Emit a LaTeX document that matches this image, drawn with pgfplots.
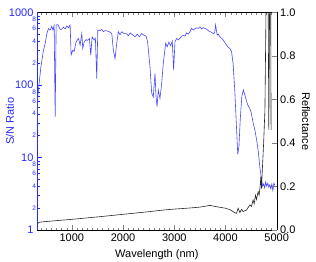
\documentclass[border=0pt]{standalone}
\usepackage{pgfplots}
\pgfplotsset{compat=1.18}
\usepackage{fontspec}
\setmainfont{Liberation Sans}
\definecolor{snline}{RGB}{70,70,255}
\definecolor{snaxis}{RGB}{40,40,255}
\newcommand{\tickfont}{\fontsize{11}{13}\selectfont}
\newcommand{\smallfont}{\fontsize{6.5}{7.5}\selectfont}
\begin{document}
\begin{tikzpicture}
\begin{axis}[
  at={(0pt,0pt)}, anchor=south west,
  scale only axis, width=239.7pt, height=217.7pt,
  xmin=320, xmax=5000, ymode=log, ymin=1, ymax=1000,
  axis y line*=left,
  xtick={1000,2000,3000,4000,5000},
  minor xtick={400,500,...,4900},
  xtick pos=both, xticklabel pos=lower,
  ytick={1,10,100,1000}, yticklabels={1,10,100,1000},
  minor ytick={2,3,...,9,20,30,...,90,200,300,...,900},
  extra y ticks={2,4,6,8,20,40,60,80,200,400,600,800},
  extra y tick labels={2,4,6,8,2,4,6,8,2,4,6,8},
  extra y tick style={major tick length=2.5pt, tick label style={font=\smallfont, xshift=2.5pt}},
  tick align=inside,
  major tick length=5pt, minor tick length=2.5pt,
  tick label style={font=\tickfont},
  /pgf/number format/assume math mode=true,
  xticklabel style={/pgf/number format/1000 sep={}},
  y axis line style={snaxis},
  every y tick/.style={snaxis},
  every minor y tick/.style={snaxis},
  yticklabel style={text=snaxis},
  xlabel={Wavelength (nm)},
  xlabel style={font=\tickfont, at={(axis description cs:0.5,-0.115)}, anchor=center},
  ylabel={S/N Ratio},
  ylabel style={font=\tickfont, text=snaxis, at={(axis description cs:-0.113,0.5)}, anchor=center},
]
\addplot[snline, line width=0.6pt] coordinates {
(320,25) (337,70) (369,117) (396,177) (446,300) (481,376) (513,510) (544,595)
(577,570) (610,640) (630,570) (655,660) (675,36) (694,670) (730,675) (772,580)
(805,585) (836,625) (869,590) (903,650) (934,610) (967,670) (986,257) (1019,300)
(1045,290) (1084,390) (1129,436) (1162,354) (1195,510) (1214,317) (1240,390)
(1279,420) (1304,410) (1343,436) (1370,257) (1396,460) (1435,415) (1460,440)
(1487,122) (1507,570) (1552,560) (1585,580) (1616,540) (1650,560) (1682,555)
(1733,540) (1780,510) (1811,300) (1844,230) (1877,375) (1908,540) (1941,490)
(1975,540) (2019,510) (2072,505) (2103,475) (2140,520) (2169,500) (2234,460)
(2279,500) (2318,460) (2364,510) (2410,480) (2450,470) (2480,390) (2526,177)
(2559,77) (2590,68) (2624,144) (2643,70) (2663,50) (2688,85) (2721,65)
(2754,104) (2785,196) (2832,375) (2863,335) (2896,390) (2929,345) (2961,400)
(2988,160) (3013,390) (3046,436) (3078,415) (3111,440) (3144,470) (3175,480)
(3210,470) (3241,520) (3275,500) (3306,540) (3339,600) (3370,570) (3400,590)
(3436,610) (3470,600) (3500,630) (3535,590) (3565,615) (3600,600) (3631,585)
(3660,560) (3695,540) (3730,530) (3760,510) (3790,520) (3807,670) (3838,485)
(3860,500) (3891,460) (3920,440) (3955,415) (3990,380) (4021,354) (4050,330)
(4085,317) (4118,287) (4149,196) (4183,80) (4216,25) (4240,11) (4262,14)
(4290,35) (4320,70) (4350,85) (4380,72) (4410,60) (4440,52) (4470,48)
(4500,42) (4540,30) (4573,24) (4605,18) (4637,12.6) (4670,7.5) (4703,5)
(4725,4.0) (4745,4.3) (4765,3.8) (4785,4.6) (4805,4.0) (4825,4.4) (4845,3.9)
(4865,4.2) (4885,3.7) (4905,4.3) (4925,3.5) (4945,4.4) (4965,4.1)
};
\end{axis}
\begin{axis}[
  at={(0pt,0pt)}, anchor=south west,
  scale only axis, width=239.7pt, height=217.7pt,
  xmin=320, xmax=5000, ymin=0, ymax=1,
  axis y line*=right, hide x axis,
  ytick={0,0.2,0.4,0.6,0.8,1.0},
  yticklabel style={/pgf/number format/fixed, /pgf/number format/fixed zerofill, /pgf/number format/precision=1},
  tick align=inside, major tick length=5pt,
  tick label style={font=\tickfont},
  /pgf/number format/assume math mode=true,
  ylabel={Reflectance},
  ylabel style={font=\tickfont, rotate=180, at={(axis description cs:1.122,0.5)}, anchor=center},
]
\addplot[black!85, line width=0.6pt] coordinates {
(337,0.031) (369,0.036) (500,0.039) (1000,0.049) (1500,0.060) (2000,0.072)
(2500,0.084) (2800,0.092) (3000,0.096) (3300,0.101) (3500,0.105) (3700,0.113)
(3800,0.108) (4000,0.100) (4100,0.092) (4183,0.079) (4216,0.077) (4247,0.100)
(4281,0.080) (4314,0.095) (4345,0.085) (4411,0.092) (4475,0.115) (4508,0.108)
(4539,0.138) (4559,0.120) (4586,0.160) (4606,0.140) (4637,0.176) (4657,0.160)
(4676,0.200) (4690,0.245) (4703,0.190) (4720,0.28) (4745,0.40) (4770,0.55)
(4800,1.2) (4830,1.2) (4846,0.46) (4866,1.2) (4880,1.2) (4890,0.46)
};
\end{axis}
\pgfresetboundingbox
\useasboundingbox (-37pt,-32pt) rectangle (279pt,230pt);
\end{tikzpicture}
\end{document}
